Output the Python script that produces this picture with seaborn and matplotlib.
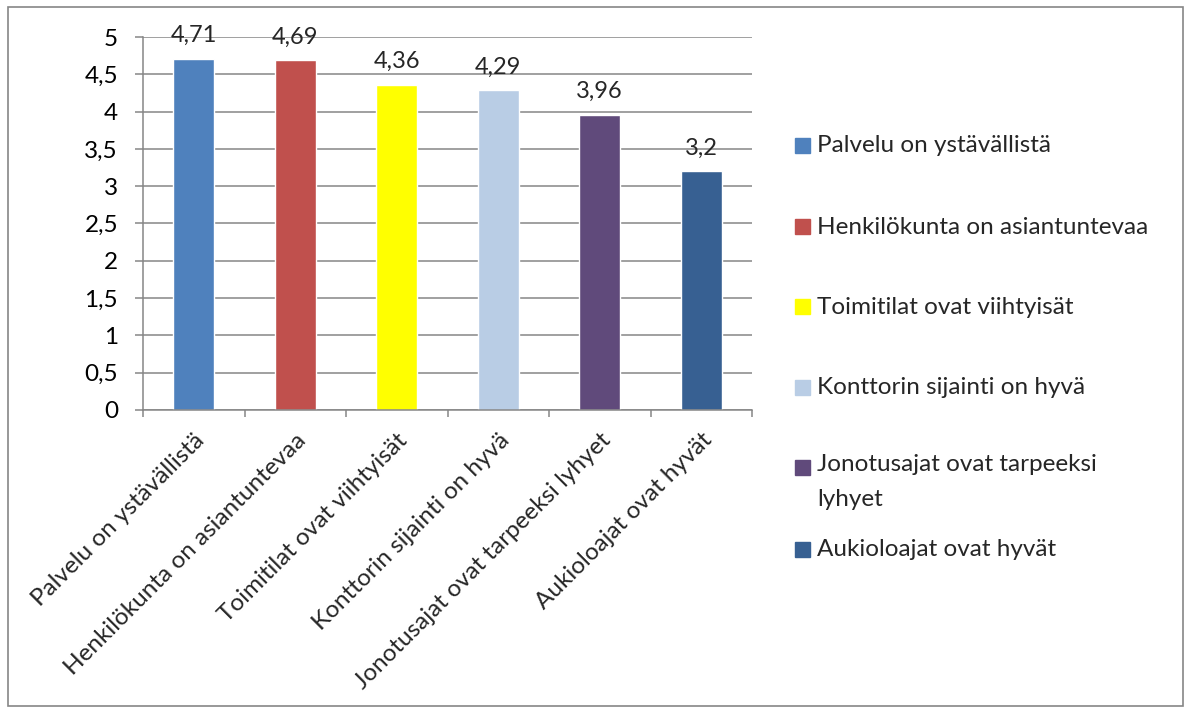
import matplotlib
matplotlib.use("Agg")
import matplotlib.pyplot as plt
from matplotlib.patches import Rectangle
import seaborn as sns
import pandas as pd
import numpy as np

categories = [
    "Palvelu on ystävällistä",
    "Henkilökunta on asiantuntevaa",
    "Toimitilat ovat viihtyisät",
    "Konttorin sijainti on hyvä",
    "Jonotusajat ovat tarpeeksi lyhyet",
    "Aukioloajat ovat hyvät",
]
legend_labels = [
    "Palvelu on ystävällistä",
    "Henkilökunta on asiantuntevaa",
    "Toimitilat ovat viihtyisät",
    "Konttorin sijainti on hyvä",
    "Jonotusajat ovat tarpeeksi\nlyhyet",
    "Aukioloajat ovat hyvät",
]
values = [4.71, 4.69, 4.36, 4.29, 3.96, 3.2]
value_labels = ["4,71", "4,69", "4,36", "4,29", "3,96", "3,2"]
colors = ["#4F81BD", "#C0504D", "#FFFF00", "#B9CDE5", "#604A7B", "#376092"]
y_ticks = [0, 0.5, 1, 1.5, 2, 2.5, 3, 3.5, 4, 4.5, 5]
y_tick_labels = ["0", "0,5", "1", "1,5", "2", "2,5", "3", "3,5", "4", "4,5", "5"]

sns.set_theme(style="white")
plt.rcParams["font.family"] = ["Lato", "DejaVu Sans"]

W, H = 1186, 713
fig = plt.figure(figsize=(W / 100, H / 100), dpi=100)
ax = fig.add_axes([143 / W, 1 - 410 / H, (752 - 143) / W, (410 - 37) / H])

df = pd.DataFrame({"cat": categories, "val": values})
sns.barplot(data=df, x="cat", y="val", hue="cat", palette=colors,
            dodge=False, width=0.40, legend=False, ax=ax, saturation=1)

grid_c = "#868686"
ax.set_xlim(-0.5, len(categories) - 0.5)
ax.set_ylim(0, 5)
ax.set_yticks(y_ticks)
ax.set_yticklabels(y_tick_labels, fontsize=17.5, color="black")
ax.yaxis.grid(True, color=grid_c, linewidth=1.1)
ax.xaxis.grid(False)
ax.set_axisbelow(True)
for s in ["top", "right"]:
    ax.spines[s].set_visible(False)
for s in ["left", "bottom"]:
    ax.spines[s].set_color(grid_c)
    ax.spines[s].set_linewidth(1.1)
ax.tick_params(axis="y", which="major", left=True, length=6, width=1.1,
               color=grid_c, pad=12)
ax.set_xticks(range(len(categories)))
ax.set_xticklabels(categories, rotation=45, ha="right",
                   rotation_mode="anchor", fontsize=17.5)
ax.tick_params(axis="x", which="major", bottom=False, pad=8)
ax.set_xticks(np.arange(-0.5, len(categories)), minor=True)
ax.tick_params(axis="x", which="minor", bottom=True, length=5, width=1.1,
               color=grid_c)
ax.set_xlabel("")
ax.set_ylabel("")

for i, (v, lab) in enumerate(zip(values, value_labels)):
    ax.annotate(lab, (i, v), xytext=(0, 9), textcoords="offset points",
                ha="center", va="bottom", fontsize=17)

# legend drawn as colour squares with text
leg_y = [146, 227, 307, 388, 468, 550]
for lab, c, yy in zip(legend_labels, colors, leg_y):
    fig.patches.append(Rectangle((795 / W, 1 - (yy + 7) / H), 15 / W, 15 / H,
                                 transform=fig.transFigure, color=c))
    if "\n" in lab:
        fig.text(817 / W, 1 - (yy - 14) / H, lab, ha="left", va="top",
                 fontsize=17.5, linespacing=1.85)
    else:
        fig.text(817 / W, 1 - yy / H, lab, ha="left", va="center",
                 fontsize=17.5)

# chart border
fig.patches.append(Rectangle((8 / W, 1 - 706 / H), (1183 - 8) / W, (706 - 7) / H,
                             transform=fig.transFigure, fill=False,
                             edgecolor=grid_c, linewidth=1.2))

fig.savefig("out.png", dpi=100)
